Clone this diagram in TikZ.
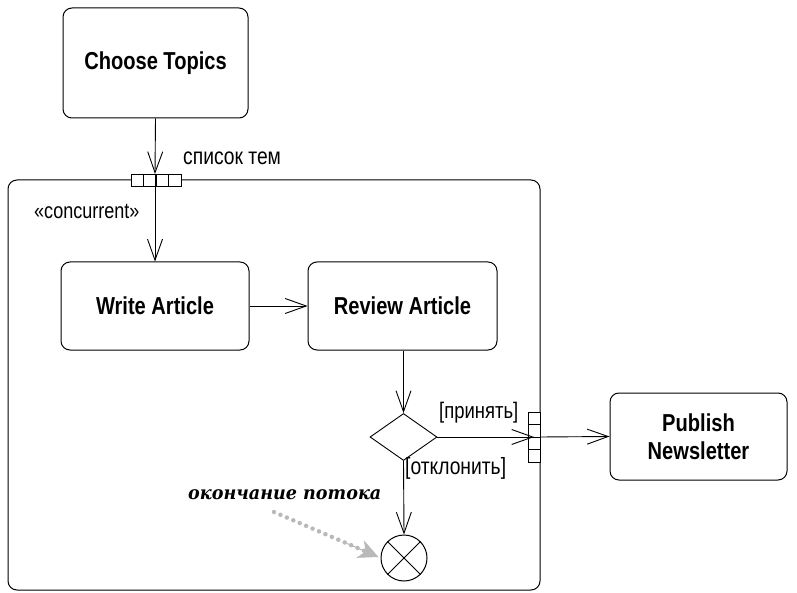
\documentclass[tikz,border=0pt]{standalone}
\usepackage{fontspec}
\setmainfont{Liberation Sans}[FakeStretch=0.82]
\newfontfamily\notefont{DejaVu Serif}[FakeStretch=0.95]
\usetikzlibrary{arrows.meta,shapes.geometric,calc}
\begin{document}
\begin{tikzpicture}[x=1pt,y=-1pt,
  act/.style={draw,rounded corners=9pt,line width=1pt,align=center,font=\fontsize{24.5}{28}\selectfont\bfseries,inner sep=0pt},
  flow/.style={draw,line width=0.9pt,-{Straight Barb[length=21pt,width=15pt,line width=0.9pt]}},
  lbl/.style={font=\fontsize{22}{24}\selectfont,inner sep=1pt},
  cyr/.style={font=\fontsize{23.5}{25}\selectfont,inner sep=1pt},
  pincell/.style={draw,line width=0.9pt,fill=white,inner sep=0pt}
]
\useasboundingbox (0,0) rectangle (797,593);
% region
\draw[line width=1pt,rounded corners=9pt] (8,180) rectangle (540,590);
\node[anchor=west,lbl] (conc) at (33,211) {«concurrent»};
% activities
\node[act,minimum width=185pt,minimum height=110pt] (choose) at (155.5,63) {Choose Topics};
\node[act,minimum width=188pt,minimum height=88pt] (write) at (155,306) {Write Article};
\node[act,minimum width=189pt,minimum height=88pt] (review) at (402.5,306) {Review Article};
\node[act,minimum width=177pt,minimum height=87pt] (publish) at (698.5,436.5) {Publish\\Newsletter};
% input pin (horizontal)
\foreach \i in {0,1,2,3}{
  \node[pincell,minimum width=12.5pt,minimum height=12pt] (pin\i) at (137.25+\i*12.5,180) {};
}
\coordinate (pintop) at (155,174);
\coordinate (pinbot) at (155,186);
\node[cyr,anchor=west] (topics) at (182,158) {список тем};
% decision
\node[diamond,draw,line width=0.9pt,minimum width=67pt,minimum height=47pt,inner sep=0pt,aspect=1.43] (dec) at (403.5,437) {};
% output pin (vertical)
\foreach \i in {0,1,2,3}{
  \node[pincell,minimum width=12pt,minimum height=12.5pt] (opin\i) at (534,418.25+\i*12.5) {};
}
\coordinate (opinleft) at (528,437);
\coordinate (opinright) at (540,437);
% flow final
\node[circle,draw,line width=1pt,minimum size=46pt,inner sep=0pt] (final) at (404,558) {};
\draw[line width=0.9pt] (final.north west) -- (final.south east) (final.north east) -- (final.south west);
% flows
\draw[flow] (choose.south) -- (pintop);
\draw[line width=0.9pt] (pintop) -- (pinbot);
\draw[flow] (pinbot) -- (write.north);
\draw[flow] (write.east) -- (review.west);
\draw[flow] (review.south -| dec.north) -- (dec.north);
\draw[flow] (dec.east) -- (534,437);
\draw[line width=0.9pt] (opinleft) -- (opinright);
\draw[flow] (opinright) -- (publish.west);
\draw[flow] (dec.south) -- (final.north);
\node[font=\fontsize{22.5}{24}\selectfont,inner sep=1pt,anchor=west] (acc) at (438,413) {[принять]};
\node[cyr,anchor=west] (rej) at (404,468) {[отклонить]};
% note
\node[font=\fontsize{18.5}{20}\selectfont\notefont\bfseries\itshape,anchor=west,inner sep=0pt] (note) at (188,495) {окончание потока};
\coordinate (nstart) at (274,512);
\coordinate (nend) at ($(final.west)+(-2,-1)$);
\draw[gray!55,line width=4.5pt,line cap=round,dash pattern=on 0pt off 7pt,shorten >=14pt] (nstart) -- (nend);
\draw[gray!55,line width=1pt,-{Stealth[length=20pt,width=19pt,inset=6pt]}] ($(nstart)!0.7!(nend)$) -- (nend);
\end{tikzpicture}
\end{document}
